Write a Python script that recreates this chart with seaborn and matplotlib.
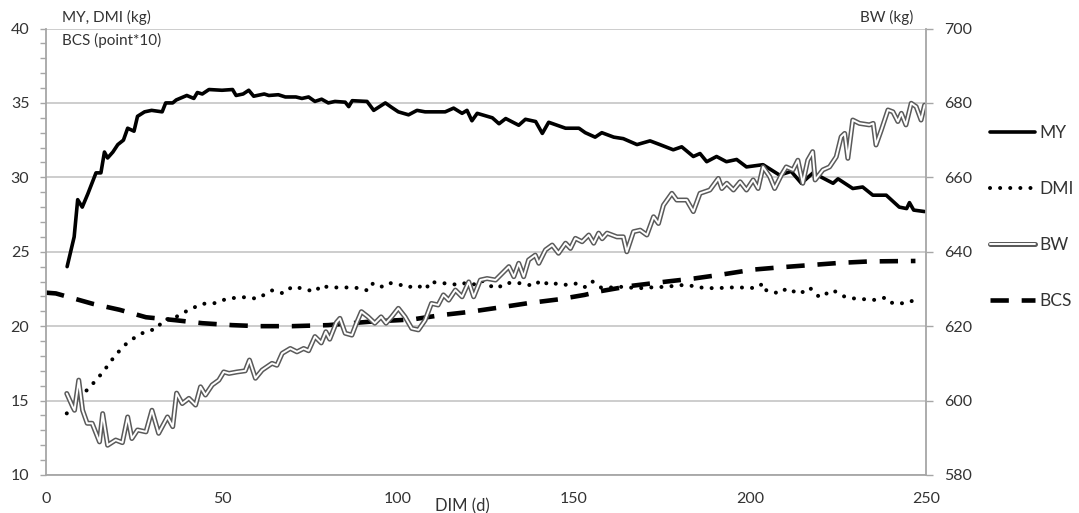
import numpy as np
import pandas as pd
import matplotlib
matplotlib.use("Agg")
import matplotlib.pyplot as plt
import seaborn as sns
from matplotlib.lines import Line2D
from matplotlib.ticker import MultipleLocator

# Milk yield (kg)
my_day = [6, 7, 8, 9, 10.3, 11.9, 14.2, 15.6, 16.6, 17.5, 19, 20.4, 22, 23.2, 25, 26, 28, 30, 33, 34,
          36, 37, 40, 42, 43, 44.4, 46.3, 50, 53, 54, 56, 57.6, 59, 62, 63.3, 66, 68, 71, 72.7, 74.6,
          76.4, 78.3, 80.2, 82.1, 85, 86, 87, 91.2, 93.1, 96.4, 98.2, 100.1, 103, 105.4, 107.7, 113.4,
          115.8, 118.2, 119.6, 121, 122.5, 126.8, 128.7, 130.6, 134.3, 136.2, 139.1, 141, 142.8, 147.6,
          151.4, 153.2, 156, 157.9, 161.3, 164, 167.9, 171.6, 174.4, 178.2, 180.6, 183.9, 185.8, 187.7,
          190.5, 193.3, 196.2, 199, 203.7, 208.4, 211.7, 214.6, 217.9, 223.6, 225, 229.2, 232, 234.9,
          238.7, 242.4, 244.5, 245.3, 246.5, 249.6]
my_val = [24.0, 25.0, 26.0, 28.5, 28.0, 28.9, 30.3, 30.3, 31.7, 31.3, 31.7, 32.2, 32.5, 33.3, 33.1, 34.1,
          34.4, 34.5, 34.4, 35.0, 35.0, 35.2, 35.5, 35.3, 35.7, 35.6, 35.9, 35.85, 35.9, 35.5, 35.6, 35.85,
          35.45, 35.6, 35.5, 35.55, 35.4, 35.4, 35.3, 35.4, 35.1, 35.25, 35.0, 35.1, 35.05, 34.75, 35.15,
          35.1, 34.5, 35.0, 34.7, 34.4, 34.2, 34.5, 34.4, 34.4, 34.65, 34.3, 34.5, 33.8, 34.3, 34.0, 33.6,
          33.95, 33.5, 33.9, 33.75, 32.95, 33.7, 33.3, 33.3, 33.0, 32.7, 33.0, 32.7, 32.6, 32.2, 32.45,
          32.2, 31.85, 32.05, 31.4, 31.6, 31.05, 31.4, 31.05, 31.2, 30.7, 30.85, 30.15, 30.4, 29.6, 30.3,
          29.6, 29.9, 29.25, 29.35, 28.8, 28.8, 28.0, 27.9, 28.3, 27.8, 27.7]

# Dry matter intake (kg)
dmi_day = [5.9, 7.6, 10, 12.8, 14.7, 16.6, 19.4, 22.2, 25, 27.9, 31.7, 33.1, 36.8, 40.6, 44.4, 48, 51.5,
           55.9, 60, 64.2, 67.5, 69.9, 72.7, 76.4, 78.3, 80.2, 83.5, 86.9, 89.6, 91.5, 92.9, 95.3, 97.2,
           100.9, 102.8, 105.2, 108, 109, 112.3, 114.6, 117, 118.9, 121.2, 123.6, 125.5, 128.3, 130.2,
           133, 134.9, 138.7, 140.6, 143, 145.3, 148.2, 151, 153.4, 155.3, 157.6, 160.4, 164.1, 167.9,
           171.7, 176.4, 180.2, 183.9, 185.8, 190.5, 193.4, 197.1, 201.9, 203.7, 204.7, 208.5, 210.4,
           214.1, 216.9, 219.8, 223.5, 226.4, 229.2, 233, 235.8, 238.6, 240.5, 244.3, 246.2, 248.1]
dmi_val = [14.14, 14.7, 15.3, 16.0, 16.5, 17.05, 17.95, 18.7, 19.2, 19.6, 19.85, 20.4, 20.6, 21.1, 21.5,
           21.55, 21.85, 21.95, 21.85, 22.4, 22.2, 22.65, 22.54, 22.31, 22.76, 22.6, 22.6, 22.6, 22.54,
           22.38, 22.88, 22.65, 22.92, 22.76, 22.6, 22.76, 22.47, 22.99, 22.88, 22.88, 22.76, 22.88, 22.76,
           23.1, 22.76, 22.54, 22.88, 22.92, 22.88, 22.7, 23.1, 22.76, 22.88, 22.76, 22.88, 22.6, 22.99,
           22.6, 22.6, 22.65, 22.54, 22.6, 22.65, 22.76, 22.7, 22.6, 22.54, 22.6, 22.6, 22.56, 22.88, 22.38,
           22.2, 22.54, 22.16, 22.6, 21.93, 22.43, 22.02, 21.87, 21.8, 21.76, 21.93, 21.54, 21.54, 21.71,
           21.31]

# Body condition score (point*10)
bcs_day = [0, 2.8, 13.3, 20.9, 28.4, 36.8, 44.4, 52.8, 60.4, 69.9, 80.2, 92, 104, 112.5, 120, 128.7,
           137.1, 145.6, 153, 157.5, 166, 176.4, 184, 191.5, 200.9, 208.4, 216.9, 225.4, 233.9, 242.4, 247]
bcs_val = [22.25, 22.2, 21.5, 21.1, 20.6, 20.4, 20.2, 20.07, 20.0, 20.0, 20.07, 20.3, 20.45, 20.75, 20.95,
           21.25, 21.55, 21.8, 22.1, 22.35, 22.7, 23.0, 23.2, 23.45, 23.8, 23.95, 24.1, 24.25, 24.35, 24.37,
           24.38]

# Body weight (kg), right axis
bw_day = [5.9, 7.6, 8.1, 9.3, 10.4, 11.7, 13.1, 15.2, 16.1, 17.5, 19.8, 21.7, 23.2, 24.4, 26.0, 28.4,
          30.1, 32.0, 34.5, 36.0, 37.1, 38.7, 40.6, 42.5, 43.9, 45.3, 47.2, 49.1, 50.5, 52, 54.3, 56.6,
          57.8, 59.5, 61.4, 64.2, 65.6, 67.1, 69.4, 71.3, 73.2, 74.6, 76.4, 78.2, 79.5, 80.6, 82.5, 83.5,
          85, 86.9, 88.2, 89.6, 91.5, 93.4, 95.2, 96.6, 98.2, 100.1, 102, 103.9, 105.8, 107.7, 109.5,
          111.4, 112.9, 114.4, 116.3, 118.2, 120.1, 121.5, 123.4, 125.3, 127.7, 129.6, 131.5, 132.9,
          134.3, 135.7, 137.1, 139.0, 140, 141.9, 143.8, 145.6, 147.6, 149.0, 150.4, 152.3, 154.2, 155.6,
          157.0, 158, 159.4, 162.2, 164.0, 165.0, 166.9, 168.8, 170.7, 172.6, 174.0, 175.4, 177.8, 179.2,
          182.0, 183.9, 185.8, 188.6, 191.0, 192.0, 193.4, 195.3, 197.2, 199.0, 200.9, 202.3, 203.7,
          205.6, 207.0, 208.9, 210.3, 212.2, 213.6, 215.0, 216.4, 217.8, 218.5, 220.7, 222.6, 224.5,
          225.9, 226.9, 227.8, 229.2, 231.1, 233.9, 235.0, 235.8, 237.3, 239.2, 240.6, 242.0, 243.0,
          244.3, 245.8, 247.2, 248.6, 249.6]
bw_val = [601.9, 598.3, 597.4, 605.5, 597.4, 593.9, 593.9, 588.9, 596.5, 588.0, 589.4, 588.7, 595.6,
          589.8, 592.1, 591.6, 597.4, 591.2, 595.6, 593.0, 602.0, 599.2, 600.6, 598.8, 603.7, 601.5, 604.2,
          605.5, 607.7, 607.3, 607.7, 608.0, 610.9, 606.0, 608.2, 610.0, 609.5, 612.7, 614.0, 613.1, 614.0,
          613.4, 617.2, 615.5, 618.5, 616.5, 621.0, 622.1, 618.1, 617.6, 620.8, 623.9, 622.5, 620.8, 622.5,
          620.8, 622.5, 624.8, 622.5, 619.4, 619.0, 621.6, 626.1, 625.7, 628.4, 627.0, 629.7, 627.9, 631.9,
          627.9, 632.4, 632.8, 632.4, 634.2, 636.0, 633.3, 636.9, 633.3, 637.8, 639.1, 636.9, 640.5, 641.8,
          639.6, 642.3, 640.9, 643.6, 642.7, 644.5, 642.3, 645.0, 643.5, 645.0, 644.0, 644.0, 640.0, 645.4,
          645.8, 644.5, 649.4, 647.6, 652.5, 655.7, 653.9, 653.9, 650.8, 655.7, 656.6, 659.7, 657.0, 658.4,
          656.6, 658.8, 656.6, 659.3, 657.0, 662.8, 660.2, 657.0, 660.6, 662.8, 662.0, 664.6, 658.4, 664.6,
          666.9, 659.3, 662.0, 662.8, 665.5, 670.9, 671.8, 665.1, 675.4, 674.5, 674.1, 674.5, 668.7, 672.7,
          678.1, 677.6, 675.0, 677.2, 674.1, 679.9, 679.0, 675.4, 679.4]

sns.set_style("white")
plt.rcParams['font.family'] = ['Lato', 'DejaVu Sans']
text_col = '#333333'
axis_col = '#a6a6a6'
dot_style = (0, (0.01, 2.5))
dash_style = (0, (4.0, 2.8))

fig = plt.figure(figsize=(10.79, 5.13), dpi=100)
ax = fig.add_axes([46 / 1079, 1 - 475 / 513, 880 / 1079, (475 - 28.5) / 513])
ax2 = ax.twinx()

# grid first so lines sit above it
ax.yaxis.grid(True, color='#c0c0c0', linewidth=1.1)
ax.xaxis.grid(False)
ax.set_axisbelow(True)

sns.lineplot(x=my_day, y=my_val, ax=ax, color='black', linewidth=2.6, estimator=None)
ln_my = ax.lines[-1]
ln_my.set_solid_joinstyle('round')

sns.lineplot(x=dmi_day, y=dmi_val, ax=ax, color='black', linewidth=2.9, estimator=None)
ln_dmi = ax.lines[-1]
ln_dmi.set_linestyle(dot_style)
ln_dmi.set_dash_capstyle('round')

sns.lineplot(x=bcs_day, y=bcs_val, ax=ax, color='black', linewidth=3.3, estimator=None)
ln_bcs = ax.lines[-1]
ln_bcs.set_linestyle(dash_style)
ln_bcs.set_dash_capstyle('butt')

sns.lineplot(x=bw_day, y=bw_val, ax=ax2, color='#5a5a5a', linewidth=3.6, estimator=None)
ax2.lines[-1].set_solid_joinstyle('round')
sns.lineplot(x=bw_day, y=bw_val, ax=ax2, color='white', linewidth=1.4, estimator=None)
ax2.lines[-1].set_solid_joinstyle('round')

ax.set_xlim(0, 250)
ax.set_ylim(10, 40)
ax2.set_ylim(580, 700)
ax.set_xticks(range(0, 251, 50))
ax.set_yticks(range(10, 41, 5))
ax.yaxis.set_minor_locator(MultipleLocator(1))
ax2.set_yticks(range(580, 701, 20))
ax.set_xlabel('')
ax.set_ylabel('')
ax2.set_ylabel('')

ax.tick_params(axis='x', length=0, pad=12, labelsize=11.5, labelcolor=text_col)
ax.tick_params(axis='y', which='both', direction='out', length=4, width=1, color=axis_col,
               pad=8, labelsize=11.5, labelcolor=text_col, left=True)
ax2.tick_params(axis='y', direction='out', length=5, width=1, color=axis_col,
                pad=8, labelsize=11.5, labelcolor=text_col, right=True)

for a in (ax, ax2):
    for s in a.spines.values():
        s.set_visible(False)
ax.spines['left'].set_visible(True)
ax.spines['bottom'].set_visible(True)
ax2.spines['right'].set_visible(True)
for s in (ax.spines['left'], ax.spines['bottom'], ax2.spines['right']):
    s.set_color(axis_col)
    s.set_linewidth(1.3)

fig.text(62 / 1079, 1 - 17 / 513, 'MY, DMI (kg)', ha='left', va='center', fontsize=11, color=text_col)
fig.text(62 / 1079, 1 - 40 / 513, 'BCS (point*10)', ha='left', va='center', fontsize=11, color=text_col)
fig.text(913 / 1079, 1 - 17 / 513, 'BW (kg)', ha='right', va='center', fontsize=11, color=text_col)
fig.text(462 / 1079, 1 - 506 / 513, 'DIM (d)', ha='center', va='center', fontsize=12, color=text_col)

# legend on the right
h_my = Line2D([], [], color='black', linewidth=2.6)
h_dmi = Line2D([], [], color='black', linewidth=2.9, linestyle=dot_style, dash_capstyle='round')
h_bw = (Line2D([], [], color='#5a5a5a', linewidth=3.6), Line2D([], [], color='white', linewidth=1.4))
h_bcs = Line2D([], [], color='black', linewidth=3.3, linestyle=dash_style)
fig.legend([h_my, h_dmi, h_bw, h_bcs], ['MY', 'DMI', 'BW', 'BCS'], loc='upper left',
           bbox_to_anchor=(990 / 1079, 1 - 125 / 513), frameon=False, fontsize=12.5,
           handlelength=2.6, handletextpad=0.25, labelspacing=2.3, borderpad=0, borderaxespad=0,
           labelcolor=text_col)

fig.savefig('out.png', dpi=100)
